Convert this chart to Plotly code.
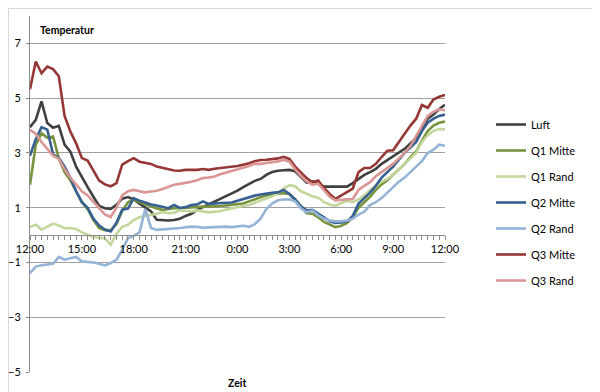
import plotly.graph_objects as go

# time categories: every 20 minutes from 12:00 to 12:00 next day (73 points)
time_index = list(range(73))
tick_positions = [0, 9, 18, 27, 36, 45, 54, 63, 72]
tick_labels = ["12:00", "15:00", "18:00", "21:00", "0:00", "3:00", "6:00", "9:00", "12:00"]

luft = [3.94, 4.21, 4.88, 4.09, 3.92, 3.99, 3.3, 3.05, 2.5, 2.1, 1.75, 1.4, 1.06, 0.98, 0.96, 1.1,
        1.33, 1.39, 1.3, 1.15, 1.02, 0.86, 0.56, 0.54, 0.53, 0.55, 0.6, 0.7, 0.78, 0.92, 1.02, 1.12,
        1.23, 1.3, 1.4, 1.5, 1.62, 1.75, 1.88, 1.98, 2.05, 2.2, 2.3, 2.35, 2.37, 2.38, 2.33, 2.12,
        1.92, 1.96, 1.85, 1.77, 1.77, 1.77, 1.77, 1.77, 1.9, 2.05, 2.2, 2.3, 2.42, 2.6, 2.73, 2.88,
        3.0, 3.15, 3.35, 3.55, 3.9, 4.25, 4.4, 4.6, 4.76]

q1_mitte = [1.84, 3.3, 3.72, 3.55, 3.6, 2.8, 2.3, 2.0, 1.6, 1.2, 0.95, 0.55, 0.25, 0.18, 0.17, 0.4,
            0.88, 1.2, 1.3, 1.2, 1.12, 1.05, 0.97, 0.92, 0.96, 0.98, 0.98, 1.0, 1.0, 1.03, 1.04, 1.04,
            1.04, 1.06, 1.08, 1.1, 1.13, 1.15, 1.23, 1.3, 1.38, 1.45, 1.48, 1.5, 1.53, 1.5, 1.3, 1.05,
            0.8, 0.78, 0.65, 0.48, 0.38, 0.29, 0.34, 0.44, 0.65, 1.0, 1.2, 1.4, 1.65, 1.85, 2.0, 2.2,
            2.38, 2.6, 2.85, 3.05, 3.45, 3.8, 4.0, 4.1, 4.15]

q1_rand = [0.29, 0.38, 0.2, 0.31, 0.42, 0.35, 0.25, 0.25, 0.22, 0.1, 0.0, -0.07, -0.1, -0.12, -0.35, 0.05,
           0.3, 0.38, 0.55, 0.65, 0.7, 0.73, 0.78, 0.84, 0.8, 0.82, 0.9, 0.88, 0.86, 0.9, 0.86, 0.83,
           0.85, 0.87, 0.93, 0.98, 1.02, 1.06, 1.1, 1.18, 1.27, 1.33, 1.42, 1.52, 1.7, 1.82, 1.78, 1.6,
           1.5, 1.42, 1.36, 1.2, 1.12, 1.07, 1.17, 1.25, 1.2, 1.3, 1.45, 1.65, 1.8, 1.95, 2.05, 2.2,
           2.4, 2.6, 2.8, 3.0, 3.4, 3.65, 3.8, 3.87, 3.86]

q2_mitte = [2.9, 3.5, 3.94, 3.85, 2.95, 2.82, 2.5, 2.1, 1.6, 1.2, 1.0, 0.6, 0.35, 0.2, 0.13, 0.45,
            0.93, 0.97, 1.35, 1.25, 1.19, 1.12, 1.08, 1.02, 0.98, 1.1, 0.99, 1.02, 1.1, 1.12, 1.23, 1.14,
            1.16, 1.17, 1.18, 1.19, 1.25, 1.33, 1.38, 1.44, 1.48, 1.52, 1.54, 1.56, 1.65, 1.5, 1.3, 1.05,
            0.9, 0.92, 0.8, 0.65, 0.5, 0.44, 0.46, 0.5, 0.7, 1.15, 1.35, 1.55, 1.8, 2.1, 2.3, 2.5,
            2.75, 3.0, 3.2, 3.4, 3.8, 4.1, 4.25, 4.35, 4.4]

q2_rand = [-1.39, -1.15, -1.1, -1.07, -1.05, -0.8, -0.9, -0.85, -0.8, -0.96, -0.98, -1.0, -1.05, -1.11, -1.02, -0.9,
           -0.54, -0.11, -0.03, 0.1, 0.95, 0.26, 0.19, 0.2, 0.22, 0.24, 0.26, 0.29, 0.31, 0.3, 0.27, 0.28,
           0.29, 0.3, 0.31, 0.29, 0.31, 0.34, 0.3, 0.4, 0.6, 0.95, 1.15, 1.27, 1.3, 1.31, 1.23, 0.98,
           0.83, 0.9, 0.72, 0.6, 0.53, 0.5, 0.51, 0.53, 0.6, 0.75, 0.85, 1.1, 1.2, 1.35, 1.55, 1.75,
           1.95, 2.1, 2.3, 2.5, 2.7, 3.0, 3.12, 3.3, 3.26]

q3_mitte = [5.33, 6.34, 5.91, 6.15, 6.06, 5.8, 4.35, 3.78, 3.35, 2.81, 2.72, 2.35, 1.99, 1.85, 1.78, 1.9,
            2.57, 2.7, 2.81, 2.68, 2.63, 2.6, 2.5, 2.45, 2.4, 2.36, 2.35, 2.38, 2.38, 2.38, 2.41, 2.38,
            2.42, 2.44, 2.46, 2.5, 2.52, 2.57, 2.62, 2.7, 2.74, 2.75, 2.77, 2.8, 2.86, 2.78, 2.5, 2.28,
            2.08, 1.93, 1.99, 1.72, 1.5, 1.32, 1.45, 1.55, 1.7, 2.3, 2.45, 2.45, 2.6, 2.85, 3.08, 3.1,
            3.4, 3.7, 4.0, 4.25, 4.75, 4.65, 4.95, 5.05, 5.12]

q3_rand = [3.84, 3.7, 3.4, 3.17, 2.9, 2.78, 2.4, 2.1, 1.85, 1.6, 1.45, 1.2, 0.98, 0.75, 0.66, 1.0,
           1.45, 1.6, 1.65, 1.6, 1.56, 1.59, 1.62, 1.68, 1.75, 1.84, 1.87, 1.9, 1.95, 2.0, 2.08, 2.1,
           2.14, 2.22, 2.28, 2.32, 2.38, 2.44, 2.52, 2.6, 2.6, 2.63, 2.66, 2.69, 2.75, 2.68, 2.4, 2.15,
           1.96, 1.84, 1.88, 1.65, 1.4, 1.27, 1.3, 1.31, 1.32, 1.65, 1.8, 1.93, 2.15, 2.3, 2.44, 2.6,
           2.8, 3.0, 3.25, 3.6, 4.0, 4.35, 4.5, 4.6, 4.55]

series_names = ["Luft", "Q1 Mitte", "Q1 Rand", "Q2 Mitte", "Q2 Rand", "Q3 Mitte", "Q3 Rand"]
series_values = [luft, q1_mitte, q1_rand, q2_mitte, q2_rand, q3_mitte, q3_rand]
series_colors = ["#404040", "#77933C", "#C3D69B", "#376092", "#95B3D7", "#953735", "#D99694"]

FONT = "Lato, 'Open Sans', sans-serif"

fig = go.Figure()
for name, vals, col in zip(series_names, series_values, series_colors):
    fig.add_trace(go.Scatter(x=time_index, y=vals, mode="lines", name=name,
                             legendgroup=name,
                             line=dict(color=col, width=2.6)))

Y_MIN, Y_MAX = -5, 8
# page body has an 8px margin; figure is sized so it ends at the window edge
OFF = 8
W, H = 600 - OFF, 392 - OFF
# plot area in window pixels
PL, PR, PT, PB = 30, 445, 16, 372
L, R, T, B = PL - OFF, W - (PR - OFF), PT - OFF, H - (PB - OFF)
pw, ph = PR - PL, PB - PT

def px_x(p):
    return (p - PL) / pw

def px_y(p):
    return (PB - p) / ph

fig.update_layout(
    width=W, height=H,
    margin=dict(l=L, r=R, t=T, b=B, autoexpand=False),
    paper_bgcolor="white", plot_bgcolor="white",
    font=dict(family=FONT, size=11, color="#000000"),
    showlegend=True,
    legend=dict(x=px_x(491), y=px_y(110), xanchor="left", yanchor="top",
                font=dict(size=11), tracegroupgap=7, itemwidth=30,
                bgcolor="rgba(0,0,0,0)"),
    xaxis=dict(range=[0, 72], anchor="free", position=(0 - Y_MIN) / (Y_MAX - Y_MIN),
               tickmode="array", tickvals=tick_positions, ticktext=tick_labels,
               showline=True, linecolor="#8C8C8C", linewidth=1,
               ticks="outside", ticklen=4, tickcolor="#8C8C8C",
               minor=dict(dtick=1, ticks="outside", ticklen=4, tickcolor="#8C8C8C"),
               showgrid=False, zeroline=False, automargin=False,
               tickfont=dict(size=11)),
    yaxis=dict(range=[Y_MIN, Y_MAX], tick0=-5, dtick=2,
               showline=True, linecolor="#8C8C8C", linewidth=1,
               ticks="outside", ticklen=3, tickcolor="#8C8C8C",
               showgrid=True, gridcolor="#A0A0A0", gridwidth=1,
               zeroline=False, ticklabelstandoff=3, automargin=False,
               tickfont=dict(size=11)),
    annotations=[
        dict(text="<b>Temperatur</b>", xref="paper", yref="paper",
             x=px_x(38), y=px_y(30), xanchor="left", yanchor="middle",
             showarrow=False, font=dict(size=10.5)),
        dict(text="<b>Zeit</b>", xref="paper", yref="paper",
             x=px_x(237), y=px_y(383), xanchor="center", yanchor="middle",
             showarrow=False, font=dict(size=10.5)),
    ],
    shapes=[
        dict(type="rect", xref="paper", yref="paper",
             x0=px_x(8.5), x1=px_x(640), y0=px_y(420), y1=px_y(8.5),
             line=dict(color="#D9D9D9", width=1), fillcolor="rgba(0,0,0,0)", layer="below"),
    ],
)

fig.write_html("out.html")
